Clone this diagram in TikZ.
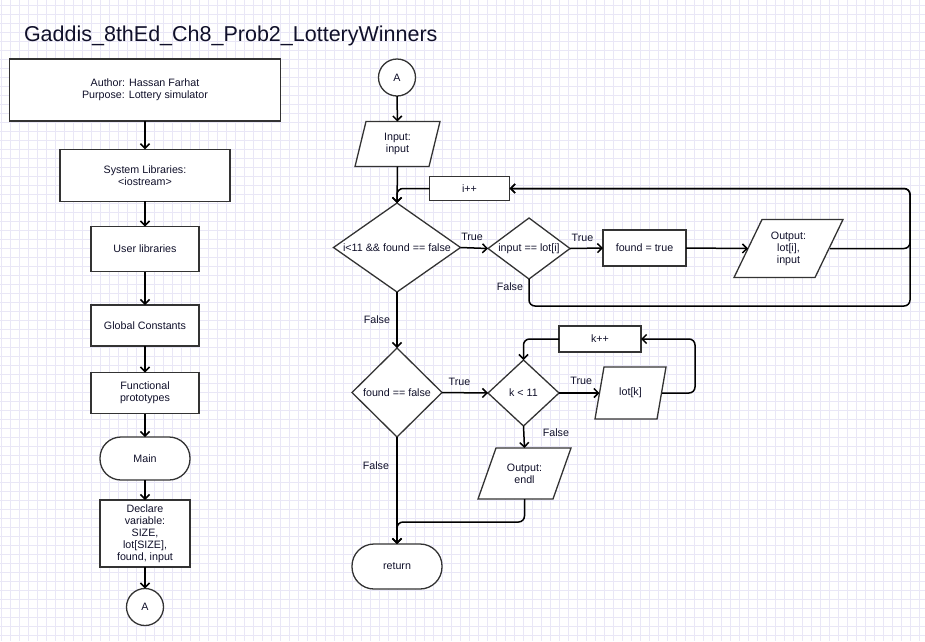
\documentclass[tikz,border=0pt]{standalone}
\usepackage{fontspec}
\setmainfont{Liberation Sans}
\usetikzlibrary{arrows.meta,calc,shapes.geometric}
\pgfdeclarelayer{gridlayer}
\pgfdeclarelayer{shapelayer}
\pgfsetlayers{gridlayer,shapelayer,main}
\definecolor{gridc}{HTML}{E9E7F6}
\definecolor{bordc}{HTML}{333333}
\definecolor{txtc}{HTML}{10102A}
\tikzset{
  x=1pt, y=-1pt,
  base/.style={inner sep=0pt, outer sep=0pt, align=center, text=txtc,
    font=\fontsize{10.7}{12}\selectfont},
  procbox/.style={base, draw=bordc, line width=1.3pt, fill=white},
  termbox/.style={base, draw=bordc, line width=1.3pt, fill=white, rounded corners=21pt},
  connbox/.style={base, circle, draw=bordc, line width=1.3pt, fill=white, minimum size=37pt},
  diabox/.style={base, diamond, draw=bordc, line width=1.3pt, fill=white},
  parabox/.style={base},
  arr/.style={line width=1.5pt, black, rounded corners=6pt,
    -{Straight Barb[length=4.5pt,width=9pt,line width=1.5pt]}},
  lbl/.style={base, text=txtc, font=\fontsize{10.7}{12}\selectfont, inner sep=1pt},
}
\newcommand\drawpara[2]{%
  \begin{pgfonlayer}{shapelayer}
  \draw[draw=bordc, line width=1.3pt, fill=white, line join=miter]
    (#1.south west) -- ([xshift=#2pt]#1.north west) -- (#1.north east)
    -- ([xshift=-#2pt]#1.south east) -- cycle;
  \end{pgfonlayer}}
\begin{document}
\begin{tikzpicture}
\useasboundingbox (0,0) rectangle (925,641);
\begin{pgfonlayer}{gridlayer}
  \fill[white] (0,0) rectangle (925,641);
  \foreach \gx in {1,10,...,925} \draw[gridc, line width=0.8pt] (\gx,0) -- (\gx,641);
  \foreach \gy in {5,14,...,641} \draw[gridc, line width=0.8pt] (0,\gy) -- (925,\gy);
\end{pgfonlayer}

% title
\node[base, anchor=base west, font=\fontsize{21.5}{25}\selectfont, text=txtc] (title) at (24,41.5) {Gaddis\_8thEd\_Ch8\_Prob2\_LotteryWinners};

% left column
\node[procbox, minimum width=271, minimum height=62] (auth) at (145,90) {Author: Hassan Farhat\\Purpose: Lottery simulator};
\node[procbox, minimum width=170, minimum height=52] (syslib) at (145,175.3) {System Libraries:\\<iostream>};
\node[procbox, minimum width=108, minimum height=45] (userlib) at (145,249) {User libraries};
\node[procbox, minimum width=108, minimum height=41] (glob) at (145,325.5) {Global Constants};
\node[procbox, minimum width=108, minimum height=41] (func) at (145,393) {Functional\\prototypes};
\node[termbox, minimum width=90, minimum height=43] (main) at (145,458.5) {Main};
\node[procbox, minimum width=90, minimum height=67] (decl) at (145,533.5) {Declare\\variable:\\SIZE,\\lot[SIZE],\\found, input};
\node[connbox] (conA1) at (145,607) {A};

\draw[arr] (auth) -- (syslib);
\draw[arr] (syslib) -- (userlib);
\draw[arr] (userlib) -- (glob);
\draw[arr] (glob) -- (func);
\draw[arr] (func) -- (main);
\draw[arr] (main) -- (decl);
\draw[arr] (decl) -- (conA1);

% right part
\node[connbox] (conA2) at (397,77.5) {A};
\node[parabox, minimum width=85, minimum height=45] (inp) at (397.5,144) {Input:\\input};
\drawpara{inp}{11}
\node[procbox, minimum width=80, minimum height=24] (inc) at (469.5,188.5) {i++};
\node[diabox, minimum width=127, minimum height=89, label={[base]center:i<11 \&\& found == false}] (d1) at (397,247.5) {};
\node[diabox, minimum width=82, minimum height=61, label={[base]center:input == lot[i]}] (d2) at (529,248.5) {};
\node[procbox, minimum width=83, minimum height=36] (ft) at (644.5,248) {found = true};
\node[parabox, minimum width=109, minimum height=58] (outp) at (788.5,248.5) {Output:\\lot[i],\\input};
\drawpara{outp}{28}
\coordinate (rc) at (910,306);

\node[diabox, minimum width=90, minimum height=89, label={[base]center:found == false}] (d3) at (397,392.5) {};
\node[diabox, minimum width=71, minimum height=66, label={[base]center:k < 11}] (d4) at (523.5,393) {};
\node[parabox, minimum width=71, minimum height=52] (lotk) at (630.5,393) {lot[k]};
\drawpara{lotk}{9}
\node[procbox, minimum width=82, minimum height=26] (kk) at (600,339) {k++};
\node[parabox, minimum width=93, minimum height=51] (oe) at (524.5,473.5) {Output:\\endl};
\drawpara{oe}{18}
\node[termbox, minimum width=90, minimum height=45, rounded corners=22pt] (ret) at (397,566.5) {return};
\coordinate (jn) at (460,522);

\draw[arr] (conA2) -- (inp);
\draw[arr] (inp.south) -- (d1.north);
\draw[arr] (inc.west) -| (d1.north);
\draw[arr] (d1.east) -- node[lbl, above=6pt, pos=0.42] (t1) {True} (d2.west);
\draw[arr] (d2.east) -- node[lbl, above=6pt, pos=0.38] (t2) {True} (ft.west);
\draw[arr] (ft.east) -- ([xshift=14pt]outp.west);
\draw[arr] ([xshift=-13pt]outp.east) -| (rc |- inc.east) -- (inc.east);
\draw[arr] (d2.south) |- node[lbl, pos=0.14, left=5pt] (f1) {False} (rc) |- (inc.east);
\draw[arr] (d1.south) -- node[lbl, midway, left=6pt] (f2) {False} (d3.north);
\draw[arr] (d3.east) -- node[lbl, above=6pt, pos=0.38] (t3) {True} (d4.west);
\draw[arr] (d4.east) -- node[lbl, above=7pt, pos=0.55] (t4) {True} ([xshift=4.5pt]lotk.west);
\draw[arr] ([xshift=-4pt]lotk.east) -| ([xshift=54pt]kk.east) -- (kk.east);
\draw[arr] (kk.west) -| (d4.north);
\draw[arr] (d4.south) -- node[lbl, pos=0.3, right=18pt] (f3) {False} (oe.north);
\draw[arr] (oe.south) |- (jn) -| (ret.north);
\draw[arr] (d3.south) -- node[lbl, pos=0.27, left=7pt] (f4) {False} (ret.north);
\end{tikzpicture}
\end{document}
